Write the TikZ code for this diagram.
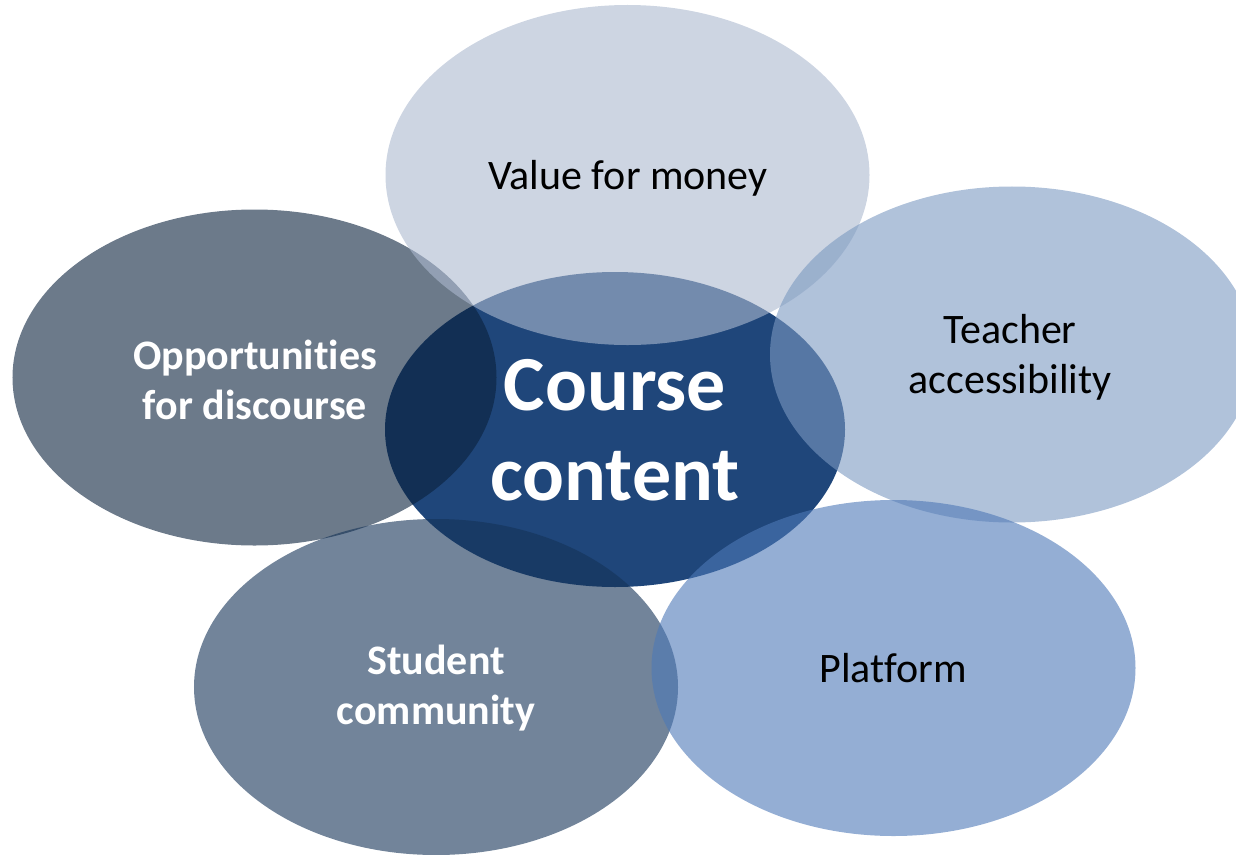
\documentclass[tikz,border=0pt]{standalone}
\usepackage{fontspec}
\setmainfont{Carlito}[Ligatures=NoCommon]
\usetikzlibrary{shapes.geometric}
\definecolor{cCore}{RGB}{31,70,122}
\definecolor{cValue}{RGB}{172,185,207}
\definecolor{cOpp}{RGB}{10,33,60}
\definecolor{cTeach}{RGB}{123,153,193}
\definecolor{cStud}{RGB}{20,50,87}
\definecolor{cPlat}{RGB}{77,120,183}
\begin{document}
\begin{tikzpicture}[x=1bp,y=-1bp,
  blob/.style={ellipse, inner sep=0pt, draw=none, minimum width=484bp, minimum height=336bp, fill opacity=0.6},
  lbl/.style={align=center, text=black, font=\fontsize{42bp}{50bp}\selectfont},
  lblw/.style={align=center, text=white, font=\fontsize{42bp}{50bp}\selectfont\bfseries},
]
\useasboundingbox (0,0) rectangle (1236,855);

% central ellipse, opaque
\node[ellipse, inner sep=0pt, draw=none, fill=cCore, minimum width=460bp, minimum height=315bp] (eCore) at (615,429.5) {};

% surrounding translucent ellipses
\node[blob, fill=cOpp] (eOpp) at (254.5,377.5) {};
\node[blob, fill=cStud] (eStud) at (436,687) {};
\node[blob, fill=cValue, minimum height=340bp] (eValue) at (627.5,175) {};
\node[blob, fill=cTeach] (eTeach) at (1012,354.5) {};
\node[blob, fill=cPlat] (ePlat) at (893.5,668) {};

% labels
\node[align=center, text=white, font=\fontsize{78bp}{90bp}\selectfont\bfseries] (tCore) at (615,430) {Course\\content};
\node[lbl] (tValue) at (628,178) {Value for money};
\node[lbl] (tTeach) at (1010,357) {Teacher\\accessibility};
\node[lbl] (tPlat) at (893,668) {Platform};
\node[lblw] (tOpp) at (255,380) {Opportunities\\for discourse};
\node[lblw] (tStud) at (436,688) {Student\\community};
\end{tikzpicture}
\end{document}
